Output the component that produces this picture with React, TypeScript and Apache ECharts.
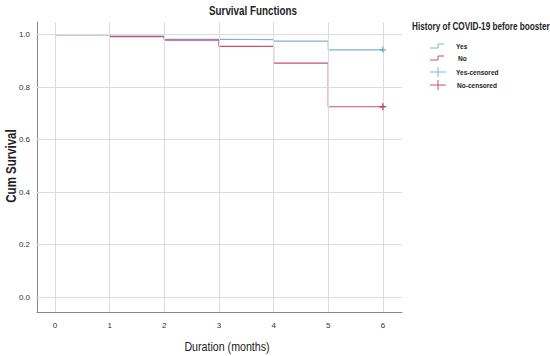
import React, { useEffect, useRef } from "react";
import * as echarts from "echarts";

const months = [0, 1, 2, 3, 4, 5, 6];
const yesSurvival = [1.0, 0.994, 0.982, 0.981, 0.975, 0.942, 0.942];
const noSurvival = [1.0, 0.992, 0.979, 0.955, 0.891, 0.725, 0.725];
const yesCensored = [[6, 0.942]];
const noCensored = [[6, 0.725]];
const yTicks = [0.0, 0.2, 0.4, 0.6, 0.8, 1.0];

const BLUE = "#7fb3d3";
const RED = "#cc4f70";
const BLUE_C = "#4a93c4";
const RED_C = "#c8204c";
const FONT = "'Liberation Sans', Arial, sans-serif";
const NARROW = 0.82;

const PLUS = "path://M4,0 L6,0 L6,4 L10,4 L10,6 L6,6 L6,10 L4,10 L4,6 L0,6 L0,4 L4,4 Z";

export default function App() {
  const ref = useRef<HTMLDivElement>(null);
  useEffect(() => {
    if (!ref.current) return;
    document.body.style.margin = "0";
    const chart = echarts.init(ref.current, null, { renderer: "svg" });
    const lx = 430;
    const legendItems = [
      { label: "Yes", y: 46, color: BLUE, kind: "step", dx: 0 },
      { label: "No", y: 58, color: RED, kind: "step", dx: 2 },
      { label: "Yes-censored", y: 72, color: BLUE, kind: "plus", dx: 0 },
      { label: "No-censored", y: 85, color: RED, kind: "plus", dx: 1 },
    ];
    const graphics: any[] = [];
    const narrowText = (text: string, x: number, y: number, font: string, align: string, rotation = 0) => ({
      type: "text",
      x,
      y,
      rotation,
      scaleX: NARROW,
      style: { text, font, fill: "#222", align, verticalAlign: "middle" },
    });
    legendItems.forEach((it) => {
      if (it.kind === "step") {
        graphics.push({
          type: "polyline",
          shape: { points: [[lx, it.y + 2], [lx + 8, it.y + 2], [lx + 8, it.y - 2], [lx + 14, it.y - 2]] },
          style: { stroke: it.color, lineWidth: 1, fill: null },
        });
      } else {
        graphics.push({
          type: "line",
          shape: { x1: lx, y1: it.y, x2: lx + 16, y2: it.y },
          style: { stroke: it.color, lineWidth: 1 },
        });
        graphics.push({
          type: "line",
          shape: { x1: lx + 8, y1: it.y - 5, x2: lx + 8, y2: it.y + 5 },
          style: { stroke: it.color, lineWidth: 1 },
        });
      }
      graphics.push(narrowText(it.label, 456 + it.dx, it.y, `bold 8px ${FONT}`, "left"));
    });
    graphics.push(narrowText("History of COVID-19 before booster", 412, 27, `bold 10px ${FONT}`, "left"));
    graphics.push(narrowText("Survival Functions", 253, 11, `bold 12px ${FONT}`, "center"));
    graphics.push(narrowText("Duration (months)", 227, 347, `13px ${FONT}`, "center"));
    graphics.push(narrowText("Cum Survival", 11, 166, `bold 14px ${FONT}`, "center", Math.PI / 2));

    chart.setOption({
      animation: false,
      backgroundColor: "#fff",
      grid: { left: 37, right: 148, top: 22, bottom: 44, containLabel: false, outerBoundsMode: "none" },
      xAxis: {
        type: "value",
        min: -0.33,
        max: 6.35,
        axisLine: { onZero: false, lineStyle: { color: "#888", width: 1 } },
        axisTick: { show: false },
        axisLabel: {
          fontFamily: FONT,
          fontSize: 8,
          color: "#333",
          margin: 9,
          customValues: months,
          formatter: (v: number) => String(v),
        },
        splitLine: { show: false },
      },
      yAxis: {
        type: "value",
        min: -0.057,
        max: 1.048,
        axisLine: { show: true, onZero: false, lineStyle: { color: "#888", width: 1 } },
        axisTick: { show: false },
        axisLabel: {
          fontFamily: FONT,
          fontSize: 8,
          color: "#333",
          margin: 7,
          customValues: yTicks,
          formatter: (v: number) => v.toFixed(1),
        },
        splitLine: { show: false },
      },
      graphic: graphics,
      series: [
        {
          type: "line",
          name: "gridX",
          silent: true,
          data: [],
          markLine: {
            silent: true,
            symbol: "none",
            label: { show: false },
            lineStyle: { color: "#dcdcdc", width: 1, type: "solid" },
            data: [
              ...months.map((m) => ({ xAxis: m })),
              ...yTicks.map((t) => ({ yAxis: t })),
            ],
          },
        },
        {
          type: "line",
          name: "Yes",
          step: "end",
          showSymbol: false,
          data: months.map((m, i) => [m, yesSurvival[i]]),
          lineStyle: { color: BLUE, width: 1.2 },
          itemStyle: { color: BLUE },
          z: 3,
        },
        {
          type: "line",
          name: "No",
          step: "end",
          showSymbol: false,
          data: months.map((m, i) => [m, noSurvival[i]]),
          lineStyle: { color: RED, width: 1.2 },
          itemStyle: { color: RED },
          z: 4,
        },
        {
          type: "scatter",
          name: "Yes-censored",
          symbol: PLUS,
          symbolSize: 6,
          data: yesCensored,
          itemStyle: { color: BLUE_C },
          z: 5,
        },
        {
          type: "scatter",
          name: "No-censored",
          symbol: PLUS,
          symbolSize: 7,
          data: noCensored,
          itemStyle: { color: RED_C },
          z: 5,
        },
      ],
    });
    return () => chart.dispose();
  }, []);
  return <div ref={ref} style={{ width: 550, height: 356 }} />;
}
